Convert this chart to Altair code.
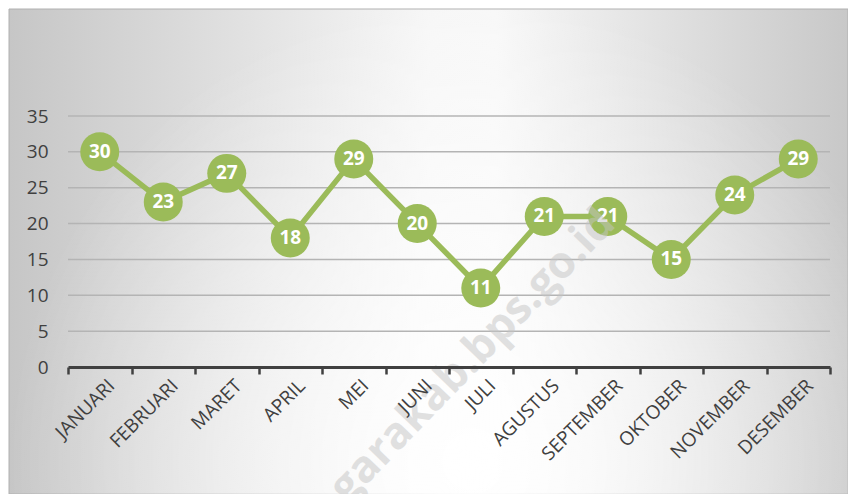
import altair as alt
import pandas as pd

months = ["JANUARI", "FEBRUARI", "MARET", "APRIL", "MEI", "JUNI", "JULI",
          "AGUSTUS", "SEPTEMBER", "OKTOBER", "NOVEMBER", "DESEMBER"]
values = [30, 23, 27, 18, 29, 20, 11, 21, 21, 15, 24, 29]
y_ticks = [0, 5, 10, 15, 20, 25, 30, 35]
watermark = ["garakab.bps.go.id"]

df = pd.DataFrame({"bulan": months, "nilai": values})
one = pd.DataFrame({"a": [0]})
grid_df = pd.DataFrame({"nilai": y_ticks[1:]})

GREEN = "#9BBB59"
W, H = 762, 251
PL, PT, PR, PB = 60, 108, 18, 127

bg = alt.Chart(one).mark_rect(
    color={"gradient": "linear", "x1": 0, "y1": 0, "x2": 1, "y2": 0,
           "stops": [{"offset": 0, "color": "#c6c6c6"},
                     {"offset": 0.5, "color": "#f7f7f7"},
                     {"offset": 0.58, "color": "#f8f8f8"},
                     {"offset": 1, "color": "#c8c8c8"}]},
    stroke="#b0b0b0", strokeWidth=1
).encode(x=alt.value(-PL + 1), x2=alt.value(W + PR), y=alt.value(-PT + 1), y2=alt.value(H + PB))

glow = alt.Chart(one).mark_rect(
    color={"gradient": "radial", "x1": 0.55, "y1": 0.75, "r1": 0, "x2": 0.55, "y2": 0.75, "r2": 0.55,
           "stops": [{"offset": 0, "color": "rgba(255,255,255,1)"},
                     {"offset": 1, "color": "rgba(255,255,255,0)"}]}
).encode(x=alt.value(-PL + 1), x2=alt.value(W + PR), y=alt.value(-PT + 1), y2=alt.value(H + PB))

yscale = alt.Scale(domain=[0, 35], nice=False)
yaxis = alt.Axis(values=y_ticks, labelFont="Open Sans",
                 labelFontSize=19, labelColor="#404040", labelPadding=20,
                 domain=False, ticks=False, grid=False, zindex=2)

xenc = alt.X("bulan:N", sort=months, title=None,
             scale=alt.Scale(paddingInner=0, paddingOuter=0),
             axis=alt.Axis(labelAngle=-45, labelFont="Open Sans", labelFontSize=19,
                           labelColor="#404040", domainColor="#404040", domainWidth=3,
                           tickColor="#404040", tickWidth=2.5, tickSize=7, tickBand="extent",
                           labelPadding=2, labelOffset=5, grid=False, zindex=2))
yenc = alt.Y("nilai:Q", title=None, scale=yscale, axis=yaxis)

grid = alt.Chart(grid_df).mark_rule(color="#b4b4b4", strokeWidth=1.5).encode(
    y=yenc, x=alt.value(0), x2=alt.value(W))

base = alt.Chart(df)
line = base.mark_line(color=GREEN, strokeWidth=5.5).encode(x=xenc, y=yenc)
pts = base.mark_circle(color=GREEN, size=1520, opacity=1).encode(x=xenc, y=yenc)
lbl = base.mark_text(color="white", font="Open Sans", fontWeight="bold", fontSize=19,
                     align="center", baseline="middle").encode(x=xenc, y=yenc, text="nilai:Q")

wm = alt.Chart(pd.DataFrame({"t": watermark})).mark_text(
    font="Open Sans", fontWeight="bold", fontSize=44, color="#c4c4c4", opacity=0.5,
    angle=314, align="center", baseline="middle"
).encode(x=alt.value(405), y=alt.value(240), text="t:N")

chart = alt.layer(bg, glow, grid, line, pts, lbl, wm).properties(
    width=W, height=H,
    autosize=alt.AutoSizeParams(type="none"),
    padding={"left": PL, "top": PT, "right": PR, "bottom": PB},
).configure_view(stroke=None).configure(background="white")

chart.save("out.html", embed_options={"renderer": "svg", "actions": False})
